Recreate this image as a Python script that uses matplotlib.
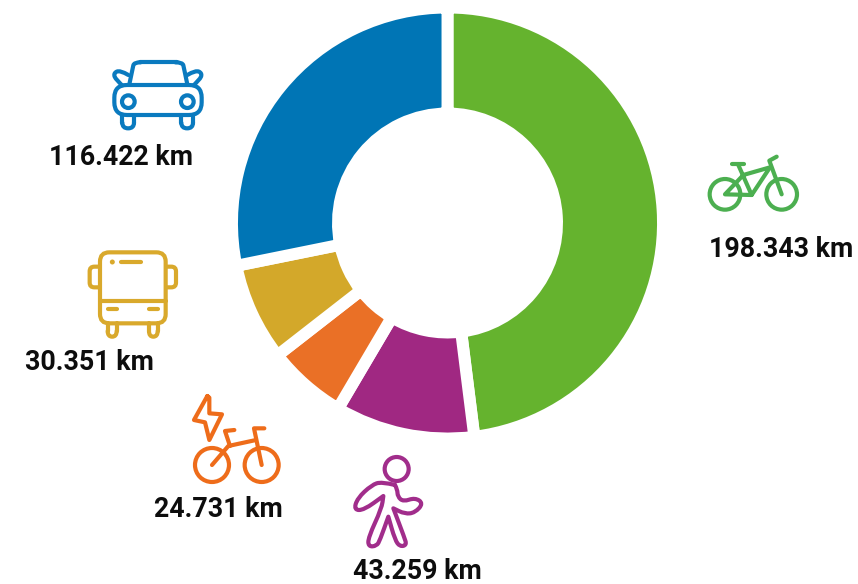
import matplotlib
matplotlib.use("Agg")
import matplotlib.pyplot as plt
from matplotlib.patches import Circle, FancyBboxPatch, PathPatch
from matplotlib.path import Path

# Data
modes = ["bike", "walk", "ebike", "bus", "car"]
km = [198343, 43259, 24731, 30351, 116422]
labels = ["198.343 km", "43.259 km", "24.731 km", "30.351 km", "116.422 km"]
wedge_colors = ["#65B32E", "#A02882", "#EA7026", "#D3A82A", "#0075B5"]
icon_colors = ["#4CAF50", "#A12D8B", "#EE6C1A", "#D9A92C", "#0A7ABF"]
label_pos = [(781, 249.5), (417, 571.5), (218, 509.5), (89.5, 362.5), (121, 157.5)]

H = 584
LW = 3.0
fig = plt.figure(figsize=(8.58, 5.84), dpi=100)
ax = fig.add_axes([0, 0, 1, 1])

# Donut
ax.pie(km, colors=wedge_colors, startangle=90, counterclock=False,
       center=(447.5, H - 223), radius=215.5,
       wedgeprops=dict(width=106, edgecolor="white", linewidth=8.6))
ax.set_xlim(0, 858)
ax.set_ylim(0, H)
ax.set_aspect("equal")
ax.axis("off")


def conv(p, org):
    return org[0] + p[0] / 3, H - (org[1] + p[1] / 3)


def line(pts, org, c):
    xs, ys = zip(*[conv(p, org) for p in pts])
    ax.plot(xs, ys, color=c, lw=LW, solid_capstyle="round", solid_joinstyle="round")


def ring(p, r, org, c):
    ax.add_patch(Circle(conv(p, org), r / 3, fill=False, ec=c, lw=LW))


def smooth(pts, org, c):
    # quadratic curve through the midpoints, points act as control points
    p = [conv(q, org) for q in pts]
    verts, codes = [p[0]], [Path.MOVETO]
    for i in range(1, len(p) - 1):
        end = p[i + 1] if i == len(p) - 2 else ((p[i][0] + p[i + 1][0]) / 2, (p[i][1] + p[i + 1][1]) / 2)
        verts += [p[i], end]
        codes += [Path.CURVE3, Path.CURVE3]
    ax.add_patch(PathPatch(Path(verts, codes), fill=False, ec=c, lw=LW,
                           capstyle="round", joinstyle="round"))


def rbox(x0, y0, x1, y1, r, org, c):
    a = conv((x0, y1), org)
    ax.add_patch(FancyBboxPatch(a, (x1 - x0) / 3, (y1 - y0) / 3,
                                boxstyle="round,pad=0,rounding_size=%f" % (r / 3),
                                fc="white", ec=c, lw=LW))


def tyre(x0, x1, y0, y1, org, c):
    line([(x0, y0), (x0, y1 - 12)], org, c)
    line([(x1, y0), (x1, y1 - 12)], org, c)
    smooth([(x0, y1 - 12), (x0, y1 + 5), (x1, y1 + 5), (x1, y1 - 12)], org, c)


# green bike
org = (690, 140)
c = icon_colors[0]
ring((105, 163), 46, org, c)
ring((275, 163), 46, org, c)
line([(127, 73), (163, 73)], org, c)
line([(145, 75), (185, 165), (105, 163), (160, 105), (240, 82), (185, 165)], org, c)
line([(275, 163), (238, 62), (260, 50)], org, c)

# purple walker
org = (340, 450)
c = icon_colors[1]
ring((170, 57), 36, org, c)
smooth([(165, 105), (125, 95), (95, 105), (52, 145), (42, 180), (72, 180),
        (130, 138), (130, 138), (125, 175), (85, 262), (85, 290), (110, 288), (120, 270),
        (145, 200), (145, 200), (165, 270), (180, 290), (200, 285), (193, 262),
        (160, 175), (160, 175), (195, 192), (225, 188), (250, 160), (225, 143), (190, 155),
        (173, 140), (172, 118), (165, 105)], org, c)

# orange e-bike
org = (150, 385)
c = icon_colors[2]
ring((186, 240), 51, org, c)
ring((335, 240), 51, org, c)
line([(186, 240), (235, 183), (318, 165)], org, c)
line([(240, 183), (225, 138), (253, 135)], org, c)
line([(335, 240), (312, 130), (343, 130)], org, c)
line([(172, 33), (132, 105), (165, 112), (178, 165), (216, 88), (178, 85), (178, 38), (172, 33)],
     org, c)

# gold bus
org = (20, 240)
c = icon_colors[3]
rbox(209, 80, 262, 142, 14, org, c)
rbox(415, 80, 468, 142, 14, org, c)
rbox(240, 37, 437, 250, 28, org, c)
line([(240, 182), (437, 182)], org, c)
line([(303, 66), (363, 66)], org, c)
line([(263, 207), (290, 207)], org, c)
line([(387, 207), (413, 207)], org, c)
ax.add_patch(Circle(conv((277, 66), org), 2.5, color=c, lw=0))
tyre(263, 290, 250, 285, org, c)
tyre(387, 413, 250, 285, org, c)

# blue car
org = (30, 50)
c = icon_colors[4]
smooth([(298, 103), (308, 55), (312, 37), (332, 37)], org, c)
line([(330, 37), (440, 37)], org, c)
smooth([(436, 37), (458, 37), (462, 55), (472, 103)], org, c)
smooth([(295, 75), (270, 60), (250, 70), (258, 90), (283, 112)], org, c)
smooth([(472, 75), (497, 60), (517, 70), (509, 90), (484, 112)], org, c)
rbox(253, 105, 515, 195, 38, org, c)
ring((295, 155), 19, org, c)
ring((472, 155), 19, org, c)
tyre(277, 312, 195, 230, org, c)
tyre(454, 489, 195, 230, org, c)

# km labels
for txt, (x, y) in zip(labels, label_pos):
    ax.text(x, H - y, txt, ha="center", va="center", fontsize=19.3,
            fontfamily="Roboto", fontweight="bold", color="#0d0d0d")

fig.savefig("out.png", dpi=100)
